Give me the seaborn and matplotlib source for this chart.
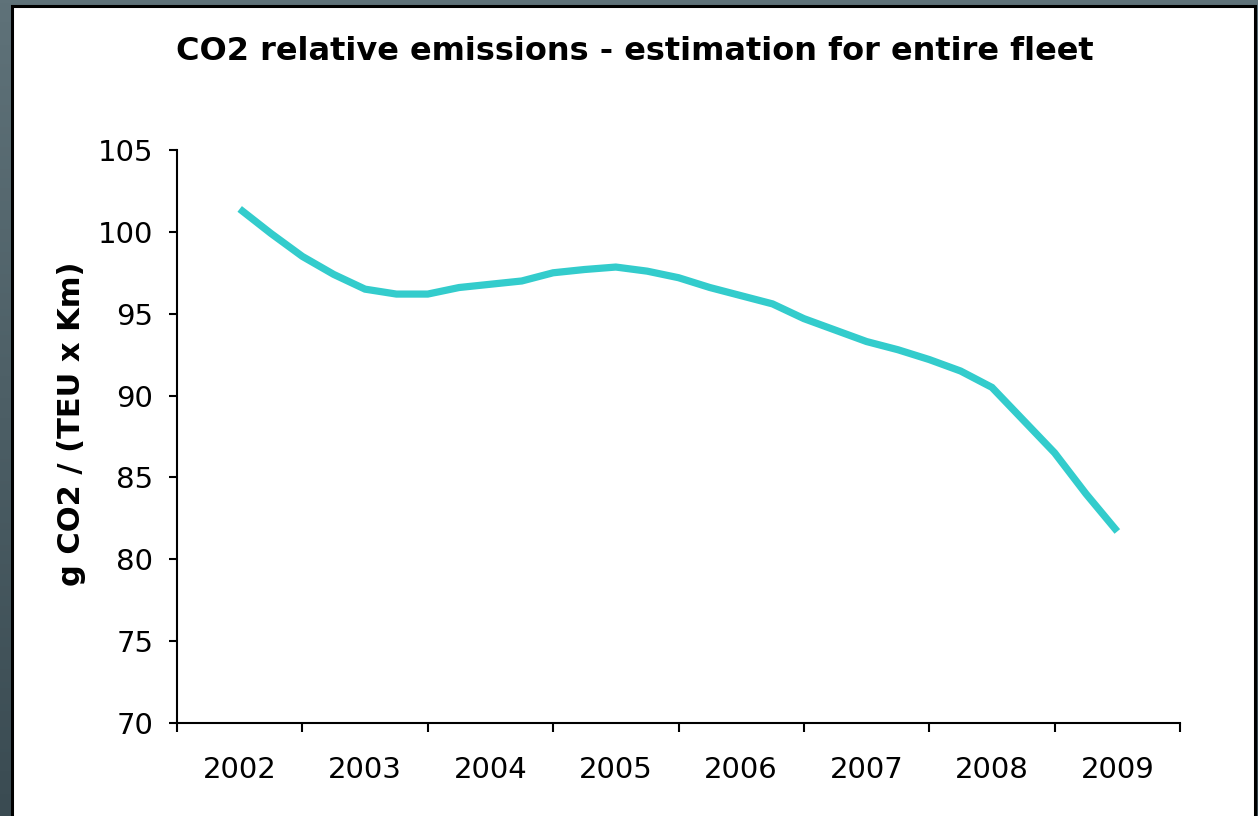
import numpy as np
import pandas as pd
import matplotlib
matplotlib.use("Agg")
import matplotlib.pyplot as plt
from matplotlib.patches import Rectangle
from matplotlib.colors import LinearSegmentedColormap
from matplotlib.ticker import FixedLocator, NullFormatter, FixedFormatter
import seaborn as sns

# Quarterly estimate of fleet CO2 intensity, 2002 Q1 .. 2009 Q1
year_labels = ["2002", "2003", "2004", "2005", "2006", "2007", "2008", "2009"]
quarter_index = list(range(29))
emissions = [101.4, 99.9, 98.5, 97.4, 96.5, 96.2, 96.2, 96.6, 96.8,
             97.0, 97.5, 97.7, 97.85, 97.6, 97.2, 96.6, 96.1, 95.6,
             94.7, 94.0, 93.3, 92.8, 92.2, 91.5, 90.5, 88.5, 86.5,
             84.0, 81.7]
y_ticks = [70, 75, 80, 85, 90, 95, 100, 105]

first_year = int(year_labels[0])
df = pd.DataFrame({
    "period": [first_year + q / 4 for q in quarter_index],
    "emissions": emissions,
})

sns.set_theme(style="white")
plt.rcParams["font.family"] = ["DejaVu Sans"]

W, H = 1258, 816
fig = plt.figure(figsize=(W / 100, H / 100), dpi=100)

# slate backdrop with a soft vertical gradient
bg = fig.add_axes([0, 0, 1, 1], zorder=-10)
grad = np.linspace(0, 1, 256).reshape(-1, 1)
cmap = LinearSegmentedColormap.from_list("slate", ["#5f7279", "#3a4b52"])
bg.imshow(grad, cmap=cmap, aspect="auto", extent=[0, 1, 0, 1])
bg.axis("off")

# white card with a black border
card = Rectangle((12 / W, -0.02), (1254.5 - 12) / W, (816 - 5.5) / H + 0.02,
                 transform=fig.transFigure, facecolor="white",
                 edgecolor="black", linewidth=2.2, zorder=-5)
fig.add_artist(card)

ax = fig.add_axes([177 / W, 1 - 723 / H, (1180 - 177) / W, (723 - 150) / H])
ax.set_facecolor("white")
ax.patch.set_alpha(0)

sns.lineplot(data=df, x="period", y="emissions", ax=ax, color="#33CCCC",
             linewidth=5.2, solid_joinstyle="miter", solid_capstyle="butt")

ax.set_xlim(first_year - 0.5, int(year_labels[-1]) + 0.5)
ax.set_ylim(y_ticks[0], y_ticks[-1])

# year labels sit between boundary tick marks
bounds = [first_year - 0.5 + i for i in range(len(year_labels) + 1)]
centers = [int(y) for y in year_labels]
ax.xaxis.set_major_locator(FixedLocator(bounds))
ax.xaxis.set_major_formatter(NullFormatter())
ax.xaxis.set_minor_locator(FixedLocator(centers))
ax.xaxis.set_minor_formatter(FixedFormatter(year_labels))
ax.tick_params(axis="x", which="major", direction="out", length=6.5,
               width=1.5, color="black", bottom=True)
ax.tick_params(axis="x", which="minor", length=0, pad=24, labelsize=21,
               labelcolor="black", bottom=True)

ax.set_yticks(y_ticks)
ax.set_yticklabels([str(v) for v in y_ticks])
ax.tick_params(axis="y", direction="out", length=6, width=1.5,
               color="black", pad=11, labelsize=21, labelcolor="black",
               left=True)

for side in ["top", "right"]:
    ax.spines[side].set_visible(False)
for side in ["left", "bottom"]:
    ax.spines[side].set_color("black")
    ax.spines[side].set_linewidth(1.5)

ax.set_xlabel("")
ax.set_ylabel("")
ax.grid(False)

fig.text(72 / W, 1 - 424 / H, "g CO2 / (TEU x Km)", rotation=90,
         ha="center", va="center", fontsize=22, fontweight="bold",
         color="black")
fig.text(635 / W, 1 - 52 / H, "CO2 relative emissions - estimation for entire fleet",
         ha="center", va="center", fontsize=23, fontweight="bold",
         color="black")

fig.savefig("out.png", dpi=100)
